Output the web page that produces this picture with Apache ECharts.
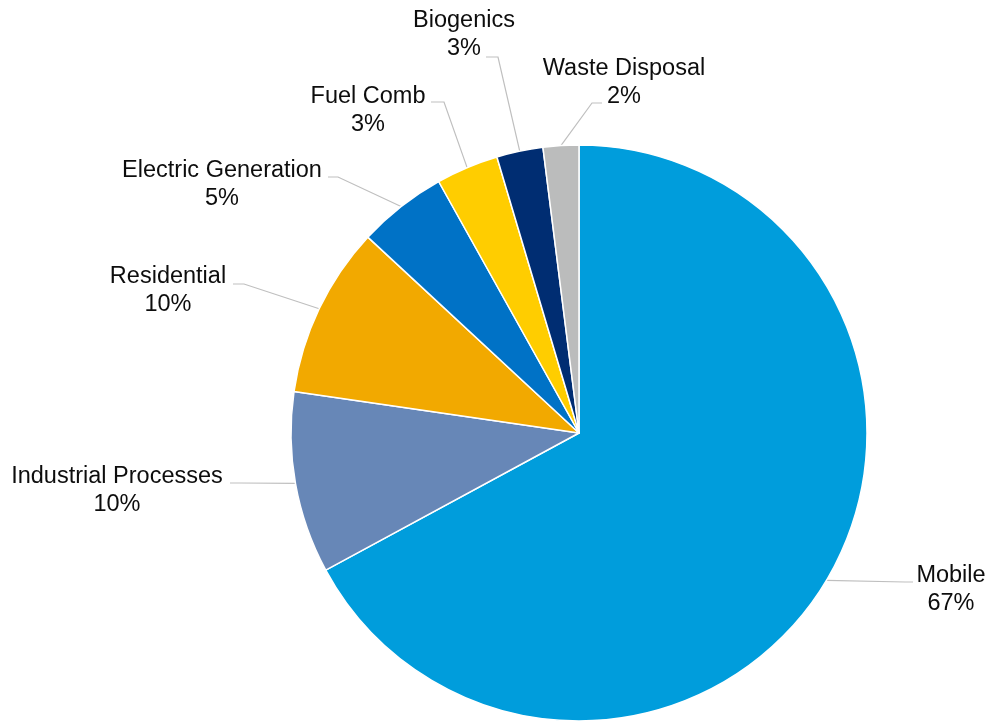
<!DOCTYPE html>
<html>
<head>
<meta charset="utf-8">
<title>Emissions by source category</title>
<script src="https://cdn.jsdelivr.net/npm/echarts@6/dist/echarts.min.js"></script>
<style>
  html, body { margin: 0; padding: 0; background: #ffffff; }
  #chart { width: 990px; height: 722px; }
</style>
</head>
<body>
<div id="chart"></div>
<script>
// Source categories, clockwise from 12 o'clock
const categories = [
  'Mobile',
  'Industrial Processes',
  'Residential',
  'Electric Generation',
  'Fuel Comb',
  'Biogenics',
  'Waste Disposal'
];

// Share of total emissions (percent)
const shares = [67.1, 10.2, 9.6, 5.0, 3.5, 2.6, 2.0];

const sliceColors = [
  '#009DDC', '#6787B7', '#F2A900', '#0072C6', '#FFCD00', '#002D72', '#BBBCBC'
];

// Callout placement: label centre, elbow of the leader line, leader end next to the text
const callouts = [
  { x: 951, y: 590, bend: [905, 582], end: [913, 582] },
  { x: 117, y: 491, bend: [240, 483], end: [230, 483] },
  { x: 168, y: 291, bend: [244, 284], end: [233, 284] },
  { x: 222, y: 185, bend: [338, 177], end: [328, 177] },
  { x: 368, y: 111, bend: [444, 102], end: [431, 102] },
  { x: 464, y: 35,  bend: [498, 57],  end: [486, 57] },
  { x: 624, y: 83,  bend: [592, 103], end: [602, 103] }
];

const chart = echarts.init(document.getElementById('chart'), null, { renderer: 'canvas' });

chart.setOption({
  animation: false,
  backgroundColor: '#ffffff',
  series: [{
    type: 'pie',
    center: [579, 433],
    radius: [0, 288],
    startAngle: 90,
    clockwise: true,
    percentPrecision: 0,
    avoidLabelOverlap: false,
    data: categories.map((name, i) => ({
      name: name,
      value: shares[i],
      itemStyle: { color: sliceColors[i] }
    })),
    itemStyle: { borderColor: '#ffffff', borderWidth: 1.5 },
    label: {
      show: true,
      position: 'outside',
      formatter: '{b}\n{d}%',
      fontFamily: '"Liberation Sans", Arial, sans-serif',
      fontSize: 23.5,
      lineHeight: 28,
      color: '#0d0d0d'
    },
    labelLine: {
      show: true,
      length: 20,
      length2: 10,
      lineStyle: { color: '#BFBFBF', width: 1.2 }
    },
    labelLayout: function (params) {
      const c = callouts[params.dataIndex];
      const start = params.labelLinePoints ? params.labelLinePoints[0] : c.bend;
      return {
        x: c.x,
        y: c.y,
        align: 'center',
        verticalAlign: 'middle',
        labelLinePoints: [start, c.bend, c.end]
      };
    },
    emphasis: { disabled: true }
  }]
});
</script>
</body>
</html>
